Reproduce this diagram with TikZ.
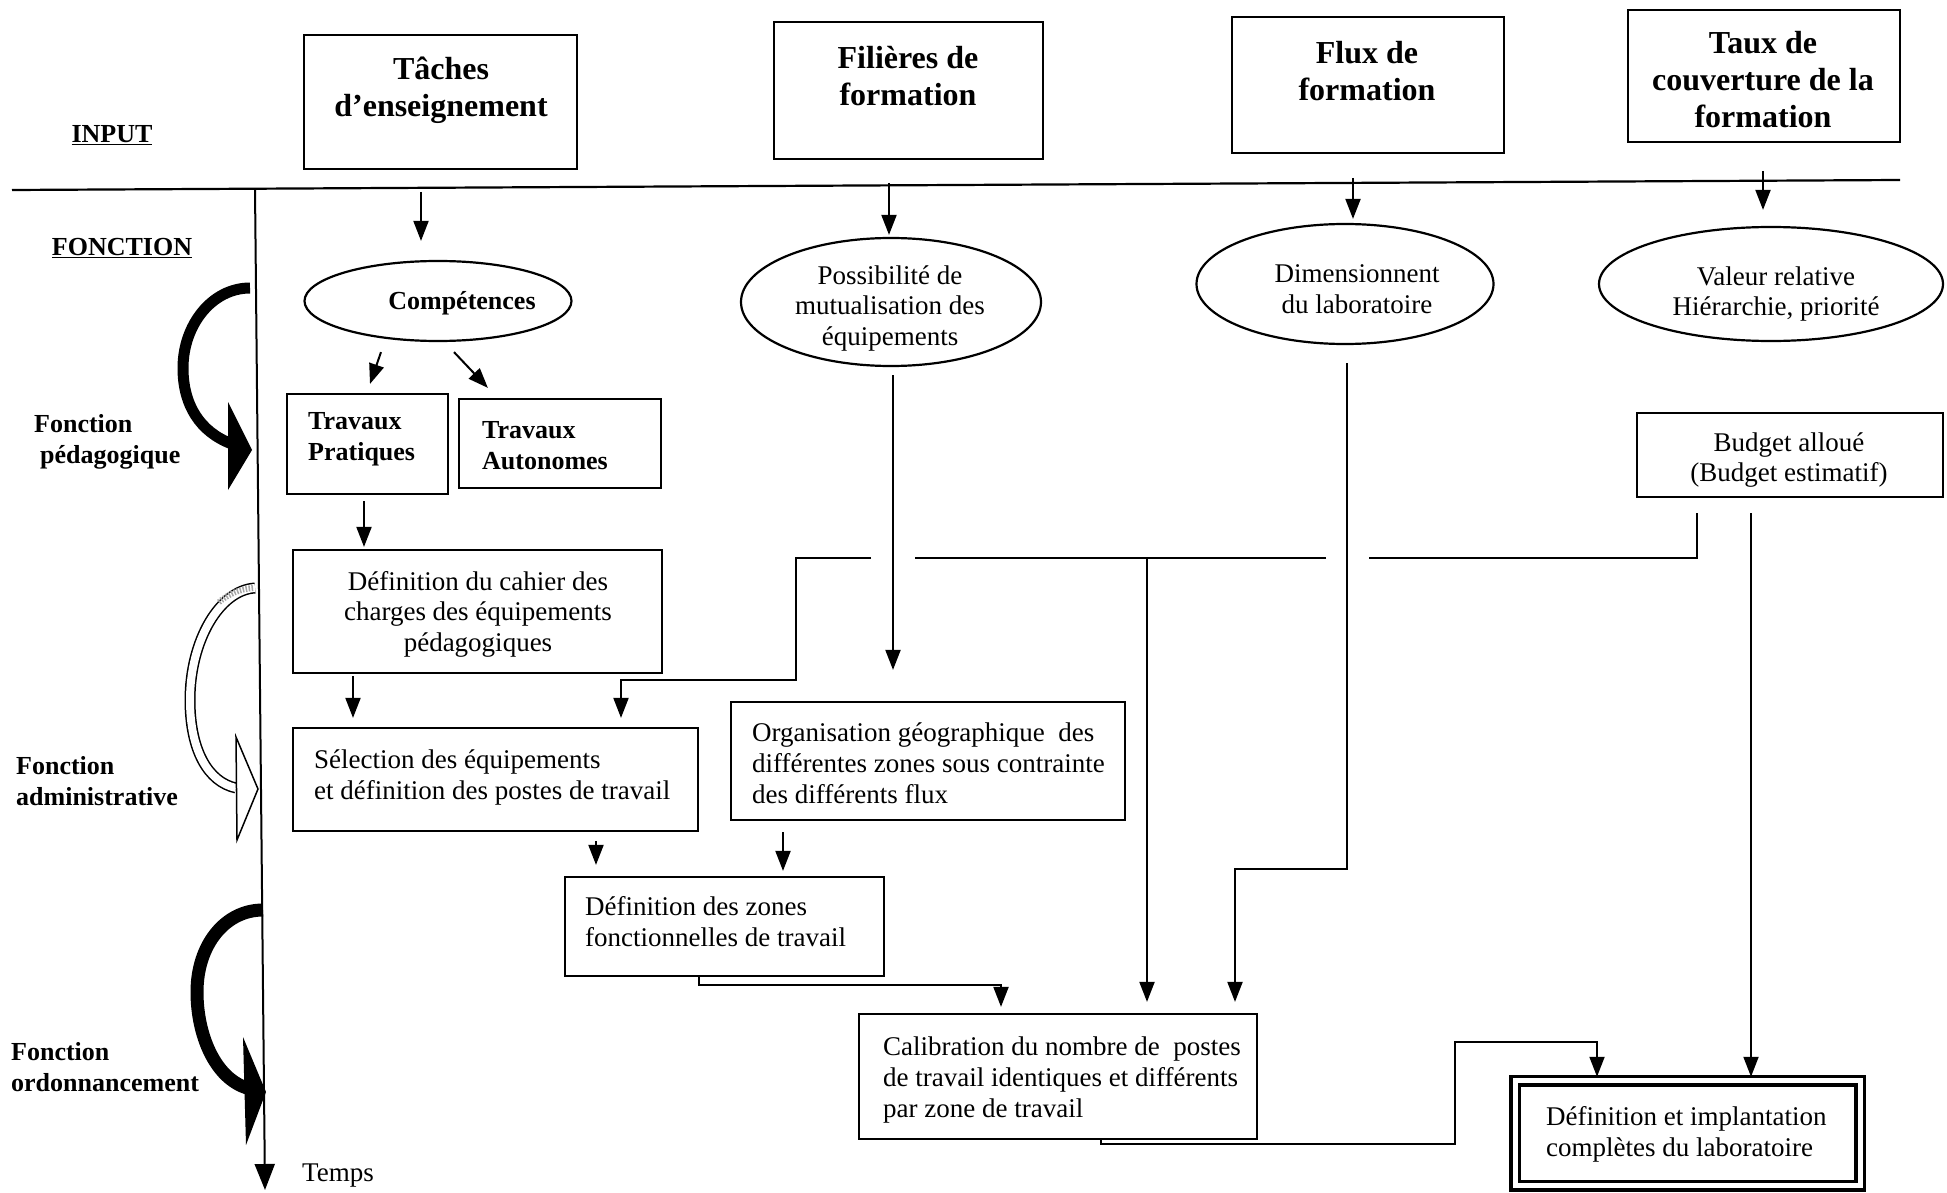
\documentclass[tikz,border=0pt]{standalone}
\usepackage{fontspec}
\setmainfont{Liberation Serif}
\usetikzlibrary{arrows.meta,shapes.geometric,calc}
\begin{document}
\begin{tikzpicture}[x=1pt,y=-1pt,
  box/.style={draw, line width=2.2pt, inner sep=0pt},
  ell/.style={draw, ellipse, line width=2.2pt, inner sep=0pt},
  ln/.style={line width=2pt},
  arr/.style={line width=2pt, -{Triangle[length=20pt,width=15pt]}},
  ttl/.style={font=\fontsize{32}{37}\selectfont\bfseries, align=center, inner sep=0pt},
  lbl/.style={font=\fontsize{26}{31}\selectfont\bfseries, align=left, inner sep=0pt},
  txt/.style={font=\fontsize{27}{31}\selectfont, align=left, inner sep=0pt},
  txtc/.style={font=\fontsize{27}{30.5}\selectfont, align=center, inner sep=0pt}]
\useasboundingbox (0,0) rectangle (1947,1193);

% axes
\coordinate (hl0) at (12,190);
\coordinate (hl1) at (1900,180);
\draw[line width=2.2pt] (hl0) -- (hl1);
\coordinate (tl0) at (255,189);
\coordinate (tl1) at (265,1190);
\draw[line width=2pt, -{Triangle[length=26pt,width=20pt]}] (tl0) -- (tl1);

% side labels
\node[lbl] (inputT) at (112,135) {\underline{INPUT}};
\node[lbl] (foncT) at (122,248) {\underline{FONCTION}};
\node[lbl, anchor=west] (lped) at (34,442) {Fonction\\\hspace*{6pt}pédagogique};
\node[lbl, anchor=west] (ladm) at (16,781) {Fonction\\administrative};
\node[lbl, anchor=west] (lord) at (11,1067) {Fonction\\ordonnancement};
\node[txt, anchor=west] (temps) at (302,1176) {Temps};

% curved side arrows
\draw[line width=11pt] (250,288) .. controls (212,288) and (183,325) .. (183,368) .. controls (183,405) and (200,432) .. (232,444);
\fill (228,402) -- (252,450) -- (228,490) -- cycle;

\draw[line width=1.5pt, double=white, double distance=8pt] (255,588) .. controls (220,590) and (190,640) .. (190,700) .. controls (190,750) and (208,782) .. (236,788);
\draw[gray!70, line width=6pt, dash pattern=on 1.5pt off 1.5pt] (253,588) .. controls (240,589) and (228,594) .. (218,603);
\filldraw[fill=white, line width=1.5pt] (236,737) -- (258,789) -- (237,840) -- cycle;

\draw[line width=13pt] (263,910) .. controls (225,910) and (197,945) .. (197,992) .. controls (197,1035) and (215,1078) .. (247,1088);
\fill (243,1037) -- (266,1092) -- (246,1145) -- cycle;

% input boxes
\node[box, minimum width=273, minimum height=134] (tache) at (440.5,102) {};
\node[ttl] (tacheT) at (441,90) {Tâches\\d’enseignement};
\node[box, minimum width=269, minimum height=137] (fil) at (908.5,90.5) {};
\node[ttl] (filT) at (908,76) {Filières de\\formation};
\node[box, minimum width=272, minimum height=136] (flux) at (1368,85) {};
\node[ttl] (fluxT) at (1367,71) {Flux de\\formation};
\node[box, minimum width=272, minimum height=132] (taux) at (1764,76) {};
\node[ttl] (tauxT) at (1763,80) {Taux de\\couverture de la\\formation};

% ellipses
\node[ell, minimum width=267, minimum height=80] (compet) at (438,301) {};
\node[lbl] (competT) at (462,303) {Compétences};
\node[ell, minimum width=300, minimum height=128] (possib) at (891,302) {};
\node[txtc] (possibT) at (890,308) {Possibilité de\\mutualisation des\\équipements};
\node[ell, minimum width=297, minimum height=120] (dimens) at (1345,284) {};
\node[txtc] (dimensT) at (1357,289) {Dimensionnent\\du laboratoire};
\node[ell, minimum width=344, minimum height=114] (valeur) at (1771,284) {};
\node[txtc] (valeurT) at (1776,294) {Valeur relative\\Hiérarchie, priorité};

% process boxes
\node[box, minimum width=161, minimum height=100] (tp) at (367.5,444) {};
\node[lbl, anchor=west] (tpT) at (308,439) {Travaux\\Pratiques};
\node[box, minimum width=202, minimum height=89] (ta) at (560,443.5) {};
\node[lbl, anchor=west] (taT) at (482,446) {Travaux\\Autonomes};
\node[box, minimum width=369, minimum height=123] (cahier) at (477.5,611.5) {};
\node[txtc] (cahierT) at (478,614) {Définition du cahier des\\charges des équipements\\pédagogiques};
\node[box, minimum width=405, minimum height=103] (select) at (495.5,779.5) {};
\node[txt, anchor=west] (selectT) at (314,777) {Sélection des équipements\\et définition des postes de travail};
\node[box, minimum width=394, minimum height=118] (organ) at (928,761) {};
\node[txt, anchor=west] (organT) at (752,763) {Organisation géographique\ \ des\\différentes zones sous contrainte\\des différents flux};
\node[box, minimum width=319, minimum height=99] (zones) at (724.5,926.5) {};
\node[txt, anchor=west] (zonesT) at (585,922) {Définition des zones\\fonctionnelles de travail};
\node[box, minimum width=398, minimum height=125] (calib) at (1058,1076.5) {};
\node[txt, anchor=west] (calibT) at (883,1080) {Calibration du nombre de\ \ postes\\de travail identiques et différents\\par zone de travail};
\node[box, minimum width=306, minimum height=84] (budget) at (1790,455) {};
\node[txtc] (budgetT) at (1789,460) {Budget alloué\\(Budget estimatif)};
\node[draw, line width=3.5pt, double=white, double distance=5pt, inner sep=0pt, minimum width=345, minimum height=105] (implant) at (1687.5,1133) {};
\node[txt, anchor=west] (implantT) at (1546,1134) {Définition et implantation\\complètes du laboratoire};

% arrows from input line
\coordinate (in1) at (421,192);
\coordinate (in2) at (889,183);
\coordinate (in3) at (1353,178);
\coordinate (in4) at (1763,171);
\draw[arr, shorten >=19pt] (in1) -- (in1 |- compet.north);
\draw[arr, shorten >=2pt] (in2) -- (in2 |- possib.north);
\draw[arr, shorten >=4pt] (in3) -- (in3 |- dimens.north);
\draw[arr, shorten >=16pt] (in4) -- (in4 |- valeur.north);

% competences to travaux
\draw[arr] ($(compet.south)+(-57,10)$) -- ($(tp.north)+(2.5,-9)$);
\draw[arr] ($(compet.south)+(16,10)$) -- ($(ta.north west)+(30,-10)$);

% vertical chain
\coordinate (c1) at ($(tp.south)+(-3.5,6)$);
\draw[arr, shorten >=2pt] (c1) -- (c1 |- cahier.north);
\coordinate (c2) at (353,676);
\draw[arr, shorten >=9pt] (c2) -- (c2 |- select.north);
\coordinate (c3) at (893,375);
\draw[arr, shorten >=31pt] (c3) -- (c3 |- organ.north);

% dimensionnement to calibration
\coordinate (c4) at (1347,363);
\coordinate (c5) at (1235,869);
\draw[arr, shorten >=11pt] (c4) |- (c5) -- (c5 |- calib.north);

% budget to selection (with line jumps)
\coordinate (b1) at (1697,513);
\coordinate (b2) at (1697,558);
\coordinate (g1) at (1369,558);
\coordinate (g2) at (1326,558);
\coordinate (g3) at (915,558);
\coordinate (g4) at (871,558);
\coordinate (b3) at (796,558);
\coordinate (b4) at (621,680);
\draw[ln] (b1) -- (b2) -- (g1);
\draw[ln] (g2) -- (g3);
\draw[arr, shorten >=9pt] (g4) -- (b3) |- (b4) -- (b4 |- select.north);
\coordinate (br) at (1147,558);
\draw[arr, shorten >=11pt] (br) -- (br |- calib.north);

% to zones
\coordinate (c6) at (596,841);
\draw[arr, shorten >=11pt] (c6) -- (c6 |- zones.north);
\coordinate (c7) at (783,832);
\draw[arr, shorten >=5pt] (c7) -- (c7 |- zones.north);

% zones to calibration
\coordinate (z1) at (699,976);
\coordinate (z2) at (1001,985);
\draw[arr, shorten >=6pt] (z1) |- (z2) -- (z2 |- calib.north);

% calibration to implantation
\coordinate (k1) at (1101,1139);
\coordinate (k2) at (1455,1144);
\coordinate (k3) at (1597,1042);
\draw[arr, shorten >=2pt] (k1) |- (k2) |- (k3) -- (k3 |- implant.north);

% budget to implantation
\coordinate (b5) at (1751,513);
\draw[arr, shorten >=2pt] (b5) -- (b5 |- implant.north);
\end{tikzpicture}
\end{document}
